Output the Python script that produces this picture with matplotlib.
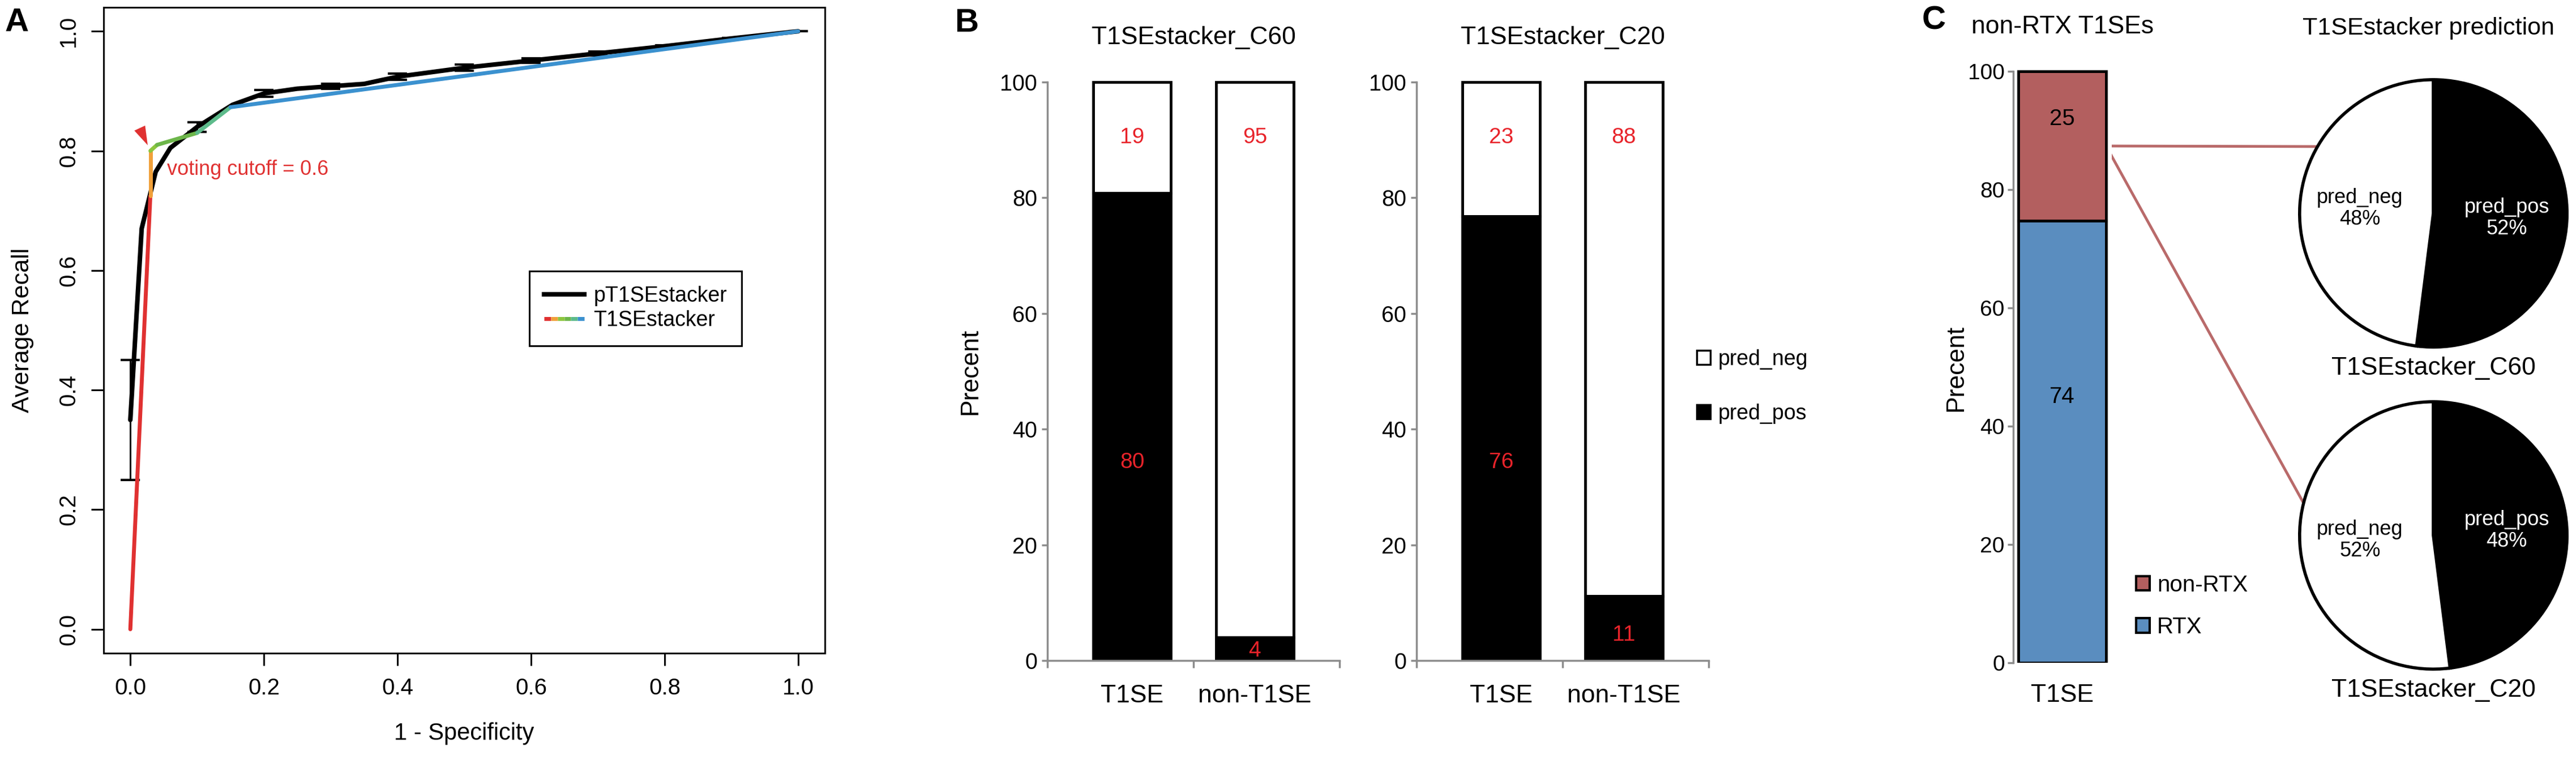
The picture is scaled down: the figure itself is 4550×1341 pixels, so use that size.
import numpy as np
import matplotlib
matplotlib.use('Agg')
import matplotlib.pyplot as plt
from matplotlib.collections import LineCollection
from matplotlib.legend_handler import HandlerBase
from matplotlib.lines import Line2D
from matplotlib.patches import Patch, ConnectionPatch

W, H = 4550, 1341
plt.rcParams['font.family'] = ['Liberation Sans', 'DejaVu Sans']

### panel A: ROC-like curves ###
fpr_p = [0.0, 0.017, 0.038, 0.06, 0.1, 0.153, 0.2, 0.25, 0.3, 0.35, 0.4, 0.5, 0.6, 0.7, 0.8, 0.9, 1.0]
recall_p = [0.35, 0.67, 0.765, 0.805, 0.84, 0.877, 0.896, 0.904, 0.908, 0.912, 0.924, 0.939, 0.951, 0.963, 0.975, 0.988, 1.0]
sd_p = [0.10, np.nan, np.nan, np.nan, 0.008, np.nan, 0.006, np.nan, 0.004, np.nan, 0.005, 0.005, 0.004, 0.003, 0.002, 0.001, 0.0]

fpr_t = [0.0, 0.03, 0.03, 0.04, 0.10, 0.15, 1.0]
recall_t = [0.0, 0.725, 0.80, 0.81, 0.83, 0.873, 1.0]
seg_colors = ['#e03131', '#f0a03a', '#8dc63f', '#6db64a', '#5dbb8b', '#3b91cf']
cutoff_idx = 2

### panel B: stacked bars ###
groups = ['T1SE', 'non-T1SE']
c60_pos = [80, 4]
c60_neg = [19, 95]
c20_pos = [76, 11]
c20_neg = [23, 88]

### panel C ###
rtx = 74
non_rtx = 25
pie_names = ['pred_pos', 'pred_neg']
pie_c60 = [52, 48]
pie_c20 = [48, 52]

RED_TXT = '#e8232a'
GREY = '#8c8c8c'
C_RED = '#b35f5f'
C_BLUE = '#5a8dbf'
C_LINE = '#b96a6a'

fig = plt.figure(figsize=(W / 100, H / 100), dpi=100)


def px_axes(l, t, r, b):
    return fig.add_axes([l / W, 1 - b / H, (r - l) / W, (b - t) / H])


def ftext(x, y, s, **kw):
    return fig.text(x / W, 1 - y / H, s, **kw)


class GradientLine:
    def __init__(self, colors, lw):
        self.colors = colors
        self.lw = lw


class HandlerGradient(HandlerBase):
    def create_artists(self, legend, orig_handle, xdescent, ydescent,
                       width, height, fontsize, trans):
        n = len(orig_handle.colors)
        xs = np.linspace(-xdescent, width - xdescent, n + 1)
        y = height / 2 - ydescent
        arts = []
        for i, c in enumerate(orig_handle.colors):
            ln = Line2D([xs[i], xs[i + 1]], [y, y], color=c, lw=orig_handle.lw,
                        solid_capstyle='butt')
            ln.set_transform(trans)
            arts.append(ln)
        return arts


# ---------------- A ----------------
axA = px_axes(183, 13, 1457, 1154)
axA.plot(fpr_p, recall_p, color='black', lw=5.8, solid_joinstyle='round',
         solid_capstyle='round', zorder=3)
sd = np.array(sd_p)
m = ~np.isnan(sd)
axA.errorbar(np.array(fpr_p)[m], np.array(recall_p)[m], yerr=sd[m], fmt='none',
             ecolor='black', elinewidth=2, capsize=12, capthick=3, zorder=3)

pts = np.column_stack([fpr_t, recall_t])
segs = np.stack([pts[:-1], pts[1:]], axis=1)
lc = LineCollection(segs, colors=seg_colors, linewidths=5, zorder=4)
lc.set_capstyle('round')
axA.add_collection(lc)

axA.annotate('', xy=(fpr_t[cutoff_idx], recall_t[cutoff_idx]),
             xytext=(-14, 30), textcoords='offset points',
             arrowprops=dict(arrowstyle='-|>,head_length=0.95,head_width=0.3',
                             mutation_scale=25, color='#e03131', lw=0.1,
                             shrinkA=0, shrinkB=8))
axA.text(0.055, 0.769, 'voting cutoff = 0.6', color='#e03131', fontsize=26,
         ha='left', va='center')

axA.set_xlim(-0.04, 1.04)
axA.set_ylim(-0.04, 1.04)
ticks = np.arange(0, 1.01, 0.2)
axA.set_xticks(ticks)
axA.set_yticks(ticks)
axA.set_xticklabels([f'{t:.1f}' for t in ticks])
axA.set_yticklabels([f'{t:.1f}' for t in ticks], rotation=90, va='center')
axA.tick_params(direction='out', length=16, width=2.2, labelsize=29, pad=15)
for s in axA.spines.values():
    s.set_linewidth(2.2)
ftext(820, 1296, '1 - Specificity', fontsize=30, ha='center', va='center')
ftext(40, 583, 'Average Recall', fontsize=31, ha='center', va='center', rotation=90)

legA = axA.legend([Line2D([], [], color='black', lw=5.8), GradientLine(seg_colors, 5)],
                  ['pT1SEstacker', 'T1SEstacker'],
                  handler_map={GradientLine: HandlerGradient()},
                  loc='upper left', bbox_to_anchor=(0.59, 0.592), borderaxespad=0,
                  fontsize=27, fancybox=False, edgecolor='black', framealpha=1,
                  handlelength=1.9, handletextpad=0.43, borderpad=0.7, labelspacing=0.2)
legA.get_frame().set_linewidth(2.2)


# ---------------- B ----------------
def stacked_panel(ax, pos, neg, title):
    x = np.arange(len(groups))
    pos = np.array(pos, dtype=float)
    neg = np.array(neg, dtype=float)
    pct_pos = 100 * pos / (pos + neg)
    pct_neg = 100 - pct_pos
    ax.bar(x, pct_pos, width=0.63, color='black', edgecolor='black', lw=3.5)
    ax.bar(x, pct_neg, bottom=pct_pos, width=0.63, color='white',
           edgecolor='black', lw=3.5, clip_on=False)
    for xi, p, v in zip(x, pct_pos, pos):
        y = 34.2 if p > 50 else 0.4 * p
        ax.text(xi, y, f'{v:.0f}', color=RED_TXT, ha='center', va='center', fontsize=28)
    for xi, v in zip(x, neg):
        ax.text(xi, 90.4, f'{v:.0f}', color=RED_TXT, ha='center', va='center', fontsize=28)
    ax.set_xlim(-0.69, 1.69)
    ax.set_ylim(0, 100)
    for s in ['top', 'right']:
        ax.spines[s].set_visible(False)
    for s in ['left', 'bottom']:
        ax.spines[s].set_color(GREY)
        ax.spines[s].set_linewidth(2.5)
    yt = np.arange(0, 101, 20)
    ax.set_yticks(yt)
    ax.set_yticklabels([str(v) for v in yt], fontsize=28.5)
    ax.tick_params(axis='y', length=7, width=2.5, color=GREY, pad=6)
    ax.set_xticks(x)
    ax.set_xticklabels(groups, fontsize=32)
    ax.tick_params(axis='x', which='major', length=0, pad=30)
    ax.set_xticks([-0.69, 0.5, 1.69], minor=True)
    ax.tick_params(axis='x', which='minor', length=9, width=2.5, color=GREY)
    ax.set_title(title, fontsize=32, pad=48)


axB1 = px_axes(1850, 145, 2366, 1167)
axB2 = px_axes(2502, 145, 3018, 1167)
stacked_panel(axB1, c60_pos, c60_neg, 'T1SEstacker_C60')
stacked_panel(axB2, c20_pos, c20_neg, 'T1SEstacker_C20')
ftext(1714, 656, 'Precent', fontsize=32, ha='center', va='center', rotation=90)

fig.legend([Patch(fc='white', ec='black', lw=2.5), Patch(fc='black', ec='black', lw=2.5)],
           ['pred_neg', 'pred_pos'], loc='center left',
           bbox_to_anchor=(2997 / W, 1 - 683 / H), frameon=False,
           fontsize=27, handlelength=0.65, handleheight=0.65,
           handletextpad=0.35, labelspacing=1.6, borderpad=0, borderaxespad=0)

# ---------------- C ----------------
axC = px_axes(3556, 126, 3730, 1171)
rtx_pct = 100 * rtx / (rtx + non_rtx)
non_pct = 100 - rtx_pct
axC.bar(0, rtx_pct, width=1, color=C_BLUE, edgecolor='black', lw=3.5)
axC.bar(0, non_pct, bottom=rtx_pct, width=1, color=C_RED, edgecolor='black',
        lw=3.5, clip_on=False)
axC.text(0, 92, str(non_rtx), ha='center', va='center', fontsize=29)
axC.text(0, 45, str(rtx), ha='center', va='center', fontsize=29)
axC.set_xlim(-0.558, 0.565)
axC.set_ylim(0, 100)
for s in ['top', 'right', 'bottom']:
    axC.spines[s].set_visible(False)
axC.spines['left'].set_color(GREY)
axC.spines['left'].set_linewidth(2.5)
yt = np.arange(0, 101, 20)
axC.set_yticks(yt)
axC.set_yticklabels([str(v) for v in yt], fontsize=28)
axC.tick_params(axis='y', length=7, width=2.5, color=GREY, pad=4)
axC.set_xticks([0])
axC.set_xticklabels(['T1SE'], fontsize=32)
axC.tick_params(axis='x', length=0, pad=27)
axC.set_title('non-RTX T1SEs', fontsize=32, pad=48)
ftext(3455, 650, 'Precent', fontsize=32, ha='center', va='center', rotation=90)

fig.legend([Patch(fc=C_RED, ec='black', lw=3), Patch(fc=C_BLUE, ec='black', lw=3)],
           ['non-RTX', 'RTX'], loc='center left',
           bbox_to_anchor=(3773 / W, 1 - 1071 / H), frameon=False,
           fontsize=29, handlelength=0.6, handleheight=0.6,
           handletextpad=0.32, labelspacing=0.9, borderpad=0, borderaxespad=0)

ftext(4289, 50, 'T1SEstacker prediction', fontsize=31, ha='center', va='center')
mid_red = rtx_pct + non_pct / 2
pie_sets = [(377, pie_c60, 'T1SEstacker_C60', 150), (946, pie_c20, 'T1SEstacker_C20', 166)]
for cy, vals, title, ang in pie_sets:
    axp = px_axes(4298 - 248, cy - 248, 4298 + 248, cy + 248)
    wedges, _ = axp.pie(vals, colors=['black', 'white'], startangle=90, counterclock=False,
                        wedgeprops=dict(edgecolor='black', linewidth=4))
    axp.set_xlim(-1.05, 1.05)
    axp.set_ylim(-1.05, 1.05)
    for w, name, v, col in zip(wedges, pie_names, vals, ['white', 'black']):
        a = np.deg2rad((w.theta1 + w.theta2) / 2)
        axp.text(0.55 * np.cos(a), 0.55 * np.sin(a), f'{name}\n{v}%', color=col,
                 ha='center', va='center', fontsize=26, linespacing=1.1)
    axp.text(0, -1.16, title, ha='center', va='center', fontsize=32, clip_on=False)
    r = np.deg2rad(ang)
    con = ConnectionPatch(xyA=(0.5, mid_red), coordsA=axC.transData,
                          xyB=(np.cos(r), np.sin(r)), coordsB=axp.transData,
                          color=C_LINE, lw=3.5, zorder=0)
    fig.add_artist(con)

# panel letters
ftext(30, 40, 'A', fontsize=42, fontweight='bold', ha='center', va='center')
ftext(1707, 41, 'B', fontsize=42, fontweight='bold', ha='center', va='center')
ftext(3416, 36, 'C', fontsize=42, fontweight='bold', ha='center', va='center')

fig.savefig('out.png', dpi=100)
